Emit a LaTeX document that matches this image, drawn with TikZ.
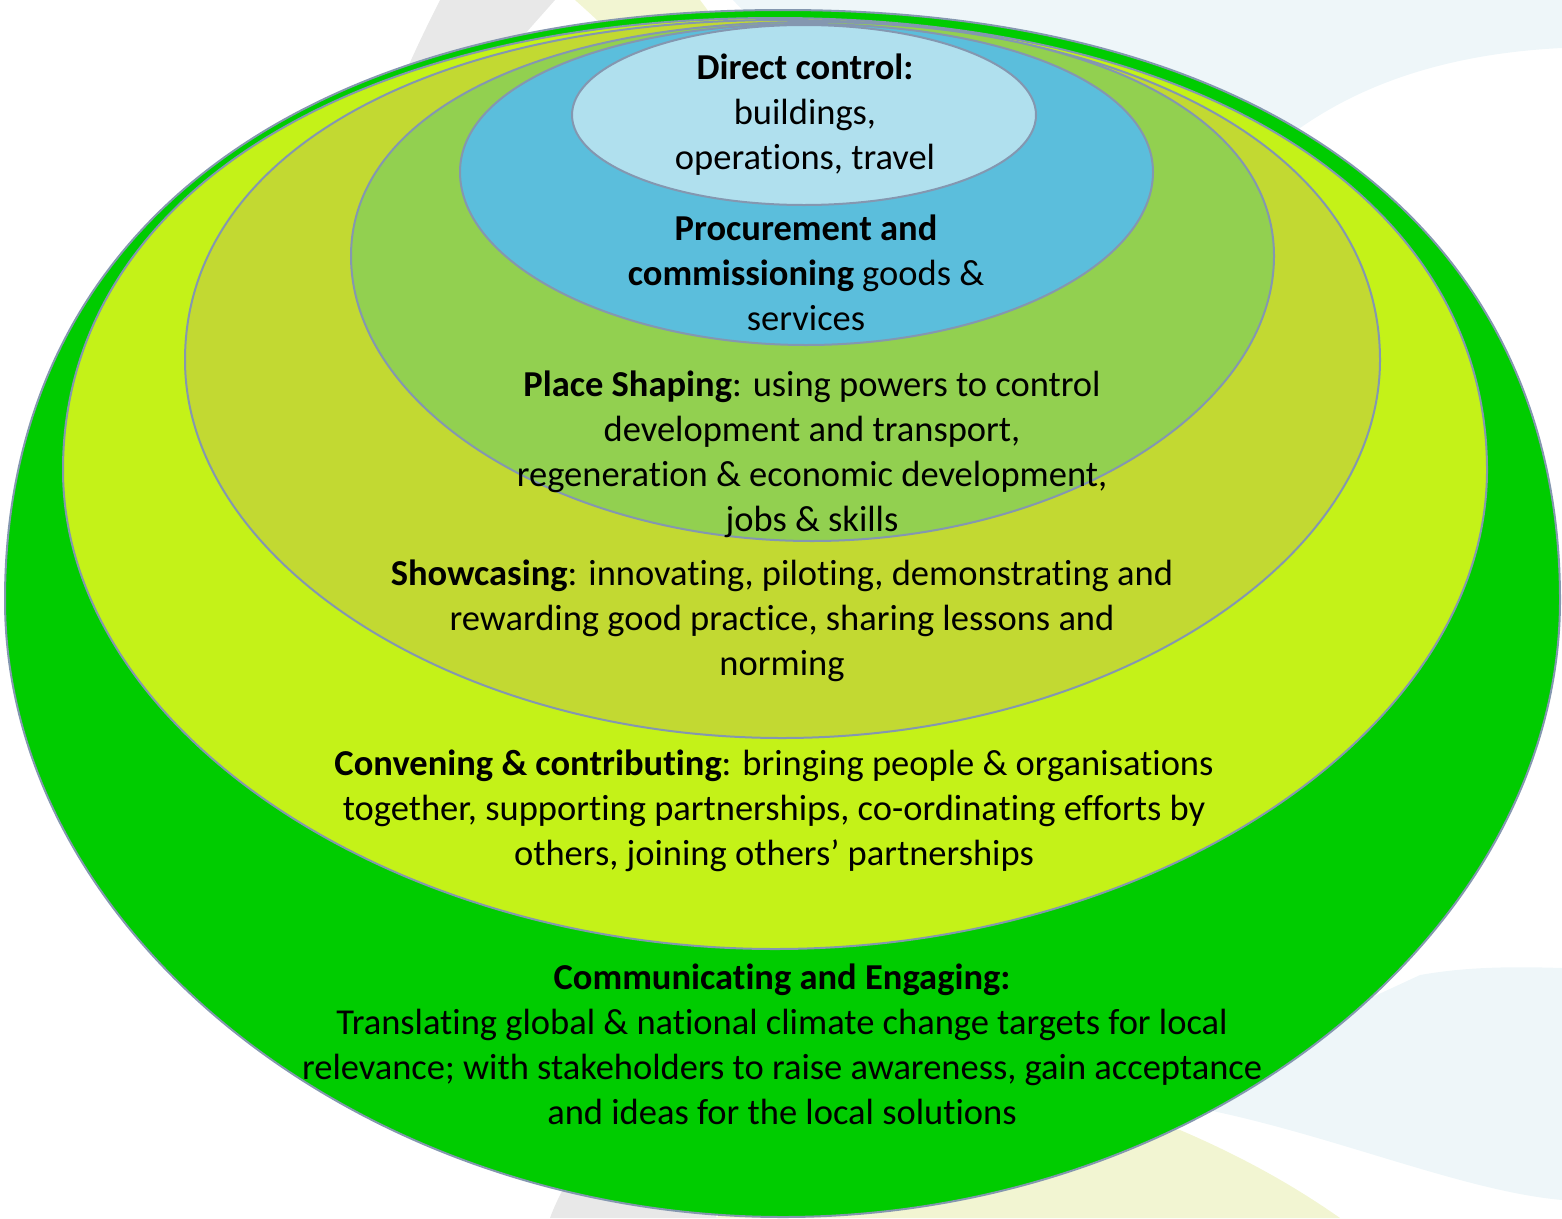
\documentclass[tikz,border=0pt]{standalone}
\usepackage{fontspec}
\setmainfont{Carlito}[Ligatures={NoCommon,NoContextual,NoRare}]
\definecolor{rimc}{HTML}{8497B0}
\definecolor{cGreen}{HTML}{00CC00}
\definecolor{cLime}{HTML}{C4F218}
\definecolor{cOlive}{HTML}{C2D932}
\definecolor{cLeaf}{HTML}{92D050}
\definecolor{cBlue}{HTML}{5BBEDC}
\definecolor{cPale}{HTML}{B0E0EE}
\definecolor{bgGray}{HTML}{E8E8E8}
\definecolor{bgYel}{HTML}{F2F5D2}
\definecolor{bgBlue}{HTML}{EEF6F9}
\tikzset{
  ring/.style={draw=rimc, line width=2pt},
  lbl/.style={align=center, inner sep=0pt, text=black,
    font=\fontsize{36.5}{45}\selectfont},
}
% #1 fill, #2 cx, #3 top, #4 bottom, #5 left, #6 right, #7 y of widest point, #8 top fullness
\newcommand\eggshape[8]{%
  \pgfmathsetmacro\eggYa{#7-#8*(#7-#3)}%
  \pgfmathsetmacro\eggXa{#2-#8*(#2-#5)}%
  \pgfmathsetmacro\eggXb{#2+#8*(#6-#2)}%
  \pgfmathsetmacro\eggYb{#7+0.54*(#4-#7)}%
  \pgfmathsetmacro\eggXc{#2+0.54*(#6-#2)}%
  \pgfmathsetmacro\eggXd{#2-0.54*(#2-#5)}%
  \draw[ring, fill=#1] (#5,#7) .. controls (#5,\eggYa) and (\eggXa,#3) .. (#2,#3)
    .. controls (\eggXb,#3) and (#6,\eggYa) .. (#6,#7)
    .. controls (#6,\eggYb) and (\eggXc,#4) .. (#2,#4)
    .. controls (\eggXd,#4) and (#5,\eggYb) .. (#5,#7) -- cycle;
}
\begin{document}
\begin{tikzpicture}[x=1pt,y=-1pt]
\useasboundingbox (0,0) rectangle (1562,1218);
% faint background swooshes
\fill[bgBlue] (733,0) -- (1562,0) -- (1562,48) .. controls (1420,55) and (1320,100) .. (1250,170) -- (900,170) .. controls (820,80) and (760,30) .. (733,0) -- cycle;
\fill[bgGray] (440,0) -- (555,0) .. controls (520,40) and (480,80) .. (460,140) -- (380,140) .. controls (400,80) and (420,40) .. (440,0) -- cycle;
\fill[bgYel] (575,0) -- (700,0) .. controls (730,40) and (760,80) .. (780,140) -- (700,140) .. controls (660,80) and (620,40) .. (575,0) -- cycle;
\fill[bgBlue] (1562,968) .. controls (1500,966) and (1460,968) .. (1420,975) -- (1150,1100) .. controls (1300,1120) and (1450,1190) .. (1562,1200) -- cycle;
\fill[bgYel] (717,1218) .. controls (740,1170) and (780,1120) .. (820,1080) -- (1180,1130) .. controls (1250,1160) and (1300,1190) .. (1340,1218) -- cycle;
\fill[bgGray] (550,1218) .. controls (560,1190) and (580,1160) .. (600,1130) -- (717,1130) .. controls (705,1160) and (700,1190) .. (717,1218) -- cycle;
% nested rings
\eggshape{cGreen}{783}{10}{1217}{5}{1560}{600}{0.625}
\eggshape{cLime}{775}{18}{949}{63}{1487}{470}{0.6}
\eggshape{cOlive}{782}{20}{738}{185}{1380}{360}{0.6}
\eggshape{cLeaf}{812}{22}{541}{351}{1274}{256}{0.6}
\eggshape{cBlue}{806}{24}{345}{460}{1153}{172}{0.58}
\draw[ring, fill=cPale] (804,115) ellipse [x radius=232pt, y radius=90pt];
% texts
\node[lbl] (direct) at (805,115) {\textbf{Direct control:}\\buildings,\\operations, travel};
\node[lbl] (procure) at (806,273) {\textbf{Procurement and}\\\textbf{commissioning} goods \&\\services};
\node[lbl] (place) at (812,454) {\textbf{Place Shaping}: using powers to control\\development and transport,\\regeneration \& economic development,\\jobs \& skills};
\node[lbl] (show) at (782,621) {\textbf{Showcasing}: innovating, piloting, demonstrating and\\rewarding good practice, sharing lessons and\\norming};
\node[lbl] (convene) at (774,811) {\textbf{Convening \& contributing}: bringing people \& organisations\\together, supporting partnerships, co-ordinating efforts by\\others, joining others’ partnerships};
\node[lbl] (comm) at (782,1044) {\textbf{Communicating and Engaging:}\\Translating global \& national climate change targets for local\\relevance; with stakeholders to raise awareness, gain acceptance\\and ideas for the local solutions};
\end{tikzpicture}
\end{document}
